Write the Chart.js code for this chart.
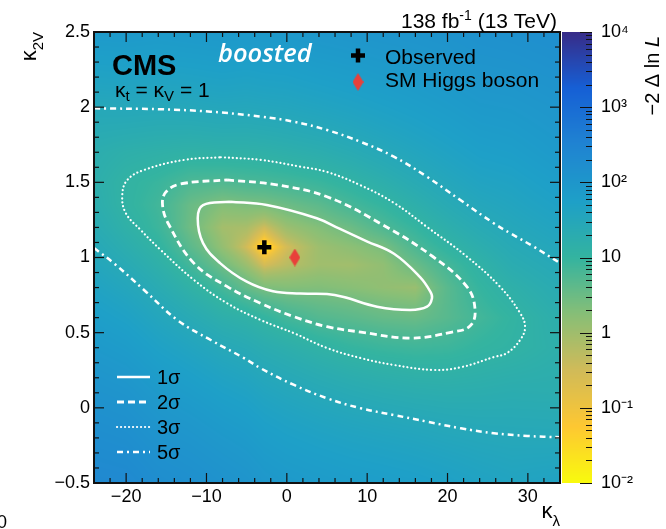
<!DOCTYPE html>
<html>
<head>
<meta charset="utf-8">
<title>kappa_lambda vs kappa_2V likelihood scan</title>
<script src="https://cdn.jsdelivr.net/npm/chart.js@4.4.1/dist/chart.umd.min.js"></script>
<style>
html,body{margin:0;padding:0;background:#ffffff;}
canvas{display:block;}
</style>
</head>
<body>
<canvas id="chart" width="666" height="529"></canvas>
<script>
// ---------------- data ----------------
const kappaLambdaLimits = [-24, 34];
const kappa2VLimits = [-0.5, 2.5];
const xTickValues = [-20, -10, 0, 10, 20, 30];
const yTickValues = [-0.5, 0, 0.5, 1, 1.5, 2, 2.5];
const zLimits = [0.01, 10000];
const zTickValues = [0.01, 0.1, 1, 10, 100, 1000, 10000];
const zTickLabels = ['10⁻²', '10⁻¹', '1', '10', '10²', '10³', '10⁴'];
const contourLabels = ['1σ', '2σ', '3σ', '5σ'];
const markerLabels = ['Observed', 'SM Higgs boson'];

const observedPoint = [[-2.8, 1.068]];
const smHiggsPoint = [[1, 1]];

// contours (kappa_lambda, kappa_2V)
const sigma1Contour = [[-7.07,1.371],[-2.50,1.349],[3.72,1.261],[6.62,1.190],[9.95,1.108],[13.34,1.025],[16.58,0.870],[17.82,0.777],[18.07,0.731],[17.45,0.673],[15.34,0.651],[11.23,0.673],[7.08,0.737],[5.00,0.757],[1.64,0.760],[-1.72,0.775],[-4.99,0.839],[-8.31,0.963],[-10.43,1.096],[-11.09,1.261],[-10.43,1.349],[-7.07,1.371]];
const sigma2Contour = [[-7.44,1.516],[-1.22,1.483],[5.00,1.404],[11.97,1.216],[18.20,1.005],[22.43,0.804],[23.43,0.651],[22.80,0.544],[20.56,0.504],[15.33,0.464],[9.23,0.504],[5.00,0.540],[0.90,0.606],[-3.25,0.695],[-7.41,0.806],[-11.55,0.961],[-14.66,1.216],[-15.47,1.349],[-15.04,1.436],[-13.21,1.489],[-7.44,1.516]];
const sigma3Contour = [[-8.23,1.667],[-3.25,1.649],[1.73,1.604],[5.00,1.569],[9.11,1.482],[13.34,1.363],[17.45,1.203],[22.43,1.005],[26.54,0.805],[29.03,0.631],[29.65,0.538],[29.03,0.451],[27.41,0.365],[25.79,0.338],[21.65,0.270],[18.32,0.252],[13.34,0.285],[9.20,0.331],[5.00,0.398],[0.90,0.496],[-3.25,0.584],[-7.41,0.695],[-11.55,0.850],[-15.70,1.050],[-18.19,1.183],[-20.05,1.296],[-20.48,1.416],[-19.85,1.516],[-17.77,1.582],[-12.80,1.649],[-8.23,1.667]];
const sigma5Upper = [[-24,1.992],[-15.70,1.986],[-9.47,1.970],[-3.25,1.937],[0.90,1.903],[5.00,1.848],[9.15,1.770],[13.31,1.671],[17.45,1.537],[21.60,1.382],[25.75,1.228],[27.82,1.161],[30.73,1.072],[34,0.963]];
const sigma5Lower = [[-24,1.063],[-21.51,0.961],[-17.77,0.784],[-13.63,0.584],[-9.47,0.451],[-5.33,0.331],[-3.25,0.263],[0.90,0.152],[5.04,0.063],[9.20,-0.003],[13.34,-0.048],[17.49,-0.092],[21.65,-0.136],[25.79,-0.169],[29.94,-0.187],[34,-0.196]];

// -2 Delta ln L read on a coarse grid: one row per kappa_lambda node, values along kappa_2V nodes
const gridKappaLambda = [-24, -20, -16, -12, -8, -5, -2.8, 0, 4, 8, 12, 16, 20, 24, 28, 34];
const gridKappa2V = [-0.5, -0.2, 0.1, 0.4, 0.6, 0.8, 0.95, 1.07, 1.2, 1.35, 1.5, 1.7, 2.0, 2.25, 2.5];
const gridDeltaNLL = [
  [237, 177, 126, 84.7, 62.7, 45, 34.5, 28, 22.5, 18.6, 17, 18.7, 29.4, 50, 82],
  [225, 163, 112, 71.4, 50.1, 33.4, 23.9, 18.2, 13.9, 11.4, 11.5, 15.6, 30.6, 52, 84],
  [176, 125, 83.8, 51.2, 34.5, 21.8, 14.9, 11.0, 8.4, 7.5, 8.9, 14.2, 29.6, 50, 80],
  [156, 108, 68.9, 38.9, 23.9, 12.9, 7.3, 4.4, 2.9, 3.3, 5.9, 12.9, 30.9, 53, 84],
  [130, 88, 54, 28.4, 15.9, 7.0, 2.8, 1.3, 0.9, 1.9, 5.4, 13.6, 33.3, 56.5, 88],
  [114, 76.6, 46.6, 24.1, 13.2, 3.6, 1.1, 0.3, 0.8, 2.19, 6.18, 13.7, 32.4, 54, 86],
  [95.5, 64, 38.8, 19.9, 10.3, 2.17, 0.28, 0, 0.32, 2.3, 6.5, 14.3, 33.9, 56.4, 88],
  [84, 55.9, 33.4, 16.7, 7.3, 1.93, 0.55, 0.28, 1.1, 3.06, 7.2, 15.8, 35.5, 57.9, 90],
  [75.9, 48.9, 27.8, 12.6, 5.2, 2.0, 1.0, 1.05, 1.92, 4.3, 8.8, 18.2, 40, 64.6, 98],
  [69.4, 43.6, 23.8, 9.9, 4.38, 1.73, 0.95, 1.55, 3.08, 6.9, 11.7, 22.6, 45.7, 71, 105],
  [65, 40, 21, 8.5, 3.55, 1.39, 1.4, 2.28, 5.7, 10.1, 16.6, 28.7, 53, 78.9, 112],
  [59.8, 36.7, 19.1, 7.8, 3.24, 1.15, 3.2, 5.9, 9.7, 15.8, 23.6, 36.5, 61, 86, 118],
  [53, 33.2, 18.1, 8.3, 4.75, 4.6, 7.0, 11.1, 16.3, 23.7, 32.4, 46, 71, 96, 127],
  [46, 30.8, 18.5, 10.3, 7.3, 9.7, 12.6, 17.5, 23.8, 32.3, 42, 57, 83.6, 110, 140],
  [41.3, 29.5, 19.6, 11.8, 10.6, 14.8, 20.2, 24.9, 30.8, 38.3, 46.5, 62, 88, 115, 148],
  [45.7, 28.9, 19, 16, 17.8, 22.6, 28.2, 33.9, 41.2, 51.3, 63, 81, 105, 132, 165]
];

// ---------------- styling / helpers ----------------
const FONT = "'Liberation Sans', Arial, Helvetica, sans-serif";
const PALETTE = [[249,251,14],[254,200,50],[209,187,89],[135,191,119],[52,180,160],[30,160,200],[32,132,210],[22,96,214],[56,44,136]];
const LINE_STYLES = [
  {dash: [], width: 2.5, cap: 'butt'},
  {dash: [7, 4], width: 2.8, cap: 'butt'},
  {dash: [0.1, 3.9], width: 2.2, cap: 'round'},
  {dash: [6, 4, 2, 4], width: 2.5, cap: 'butt'}
];
const toXY = arr => arr.map(p => ({x: p[0], y: p[1]}));

function paletteColor(v) {
  const l0 = Math.log10(zLimits[0]), l1 = Math.log10(zLimits[1]);
  const t = (Math.log10(Math.max(v, 1e-9)) - l0) / (l1 - l0);
  const p = Math.min(Math.max(t, 0), 1) * (PALETTE.length - 1);
  const i = Math.min(PALETTE.length - 2, Math.floor(p));
  const f = p - i;
  const a = PALETTE[i], b = PALETTE[i + 1];
  return [a[0] + (b[0] - a[0]) * f, a[1] + (b[1] - a[1]) * f, a[2] + (b[2] - a[2]) * f];
}
function locate(nodes, v) {
  const n = nodes.length;
  if (v <= nodes[0]) return [0, 0];
  if (v >= nodes[n - 1]) return [n - 2, 1];
  let i = 0;
  while (v > nodes[i + 1]) i++;
  return [i, (v - nodes[i]) / (nodes[i + 1] - nodes[i])];
}
function makeDiamond(w, h, color) {
  const c = document.createElement('canvas');
  c.width = w; c.height = h;
  const g = c.getContext('2d');
  g.fillStyle = color;
  g.beginPath();
  g.moveTo(w / 2, 0); g.lineTo(w, h / 2); g.lineTo(w / 2, h); g.lineTo(0, h / 2);
  g.closePath(); g.fill();
  return c;
}
const diamond = makeDiamond(11, 18, '#e8413a');

function rich(ctx, parts, x, y, measureOnly) {
  let cx = x;
  for (const p of parts) {
    ctx.font = (p.style || 'normal') + ' ' + (p.weight || 'normal') + ' ' + p.size + 'px ' + (p.family || FONT);
    if (!measureOnly) ctx.fillText(p.t, cx, y + (p.dy || 0));
    cx += ctx.measureText(p.t).width;
  }
  return cx - x;
}
function seg(ctx, x1, y1, x2, y2) { ctx.beginPath(); ctx.moveTo(x1, y1); ctx.lineTo(x2, y2); ctx.stroke(); }
function noPad(s) { s.paddingTop = 0; s.paddingBottom = 0; s.paddingLeft = 0; s.paddingRight = 0; }

// ---------------- plugins ----------------
const heatmapPlugin = {
  id: 'heatmap',
  beforeDatasetsDraw(chart) {
    const {ctx, chartArea: a, scales: {x, y}} = chart;
    const w = Math.ceil(a.right - a.left), h = Math.ceil(a.bottom - a.top);
    const off = document.createElement('canvas');
    off.width = w; off.height = h;
    const g = off.getContext('2d');
    const img = g.createImageData(w, h);
    const d = img.data;
    const root = gridDeltaNLL.map(r => r.map(v => Math.sqrt(v)));
    const cols = [];
    for (let i = 0; i < w; i++) cols.push(locate(gridKappaLambda, x.getValueForPixel(a.left + i + 0.5)));
    for (let j = 0; j < h; j++) {
      const [jy, fy] = locate(gridKappa2V, y.getValueForPixel(a.top + j + 0.5));
      for (let i = 0; i < w; i++) {
        const [ix, fx] = cols[i];
        const s = (1 - fx) * ((1 - fy) * root[ix][jy] + fy * root[ix][jy + 1]) +
                  fx * ((1 - fy) * root[ix + 1][jy] + fy * root[ix + 1][jy + 1]);
        const c = paletteColor(s * s);
        const k = (j * w + i) * 4;
        d[k] = c[0]; d[k + 1] = c[1]; d[k + 2] = c[2]; d[k + 3] = 255;
      }
    }
    g.putImageData(img, 0, 0);
    ctx.save();
    ctx.drawImage(off, a.left, a.top);
    ctx.restore();
  }
};

const framePlugin = {
  id: 'frame',
  afterDatasetsDraw(chart) {
    const {ctx, chartArea: a, scales: {x, y}} = chart;
    ctx.save();
    ctx.strokeStyle = '#111';
    ctx.lineWidth = 1.2;
    for (let v = kappaLambdaLimits[0] + 2; v < kappaLambdaLimits[1]; v += 2) {
      const px = x.getPixelForValue(v);
      const L = (v % 10 === 0) ? 10 : 5;
      seg(ctx, px, a.bottom, px, a.bottom - L);
      seg(ctx, px, a.top, px, a.top + L);
    }
    for (let k = -4; k <= 24; k++) {
      const py = y.getPixelForValue(k / 10);
      const L = (k % 5 === 0) ? 10 : 5;
      seg(ctx, a.left, py, a.left + L, py);
      seg(ctx, a.right, py, a.right - L, py);
    }
    ctx.lineWidth = 2;
    ctx.strokeStyle = '#111';
    ctx.strokeRect(a.left, a.top, a.right - a.left, a.bottom - a.top);
    ctx.restore();
  }
};

const annotationPlugin = {
  id: 'annotations',
  afterDraw(chart) {
    const {ctx, chartArea: a, scales: {z}} = chart;
    ctx.save();
    // colour bar
    const x0 = z.left + 2, cw = 30;
    for (let py = Math.floor(z.top); py < Math.ceil(z.bottom); py++) {
      const c = paletteColor(z.getValueForPixel(py + 0.5));
      ctx.fillStyle = 'rgb(' + (c[0] | 0) + ',' + (c[1] | 0) + ',' + (c[2] | 0) + ')';
      ctx.fillRect(x0, py, cw, 1);
    }
    ctx.strokeStyle = '#111';
    ctx.lineWidth = 1;
    for (let e = -2; e <= 4; e++) {
      for (let m = 1; m <= 9; m++) {
        const v = m * Math.pow(10, e);
        if (v > zLimits[1] * 1.0001) break;
        const py = Math.round(z.getPixelForValue(v)) + 0.5;
        const L = m === 1 ? 12 : 6;
        seg(ctx, x0 + cw - L, py, x0 + cw, py);
      }
    }

    ctx.fillStyle = '#000';
    ctx.textBaseline = 'alphabetic';
    ctx.textAlign = 'left';
    // CMS label
    rich(ctx, [{t: 'CMS', size: 29, weight: 'bold'}], 112, 75);
    rich(ctx, [
      {t: 'κ', size: 21}, {t: 't', size: 15, dy: 3.5}, {t: ' = κ', size: 21},
      {t: 'V', size: 15, dy: 3.5}, {t: ' = 1', size: 21}
    ], 115, 97);
    // luminosity
    const lumi = [{t: '138 fb', size: 21}, {t: '-1', size: 14, dy: -8}, {t: ' (13 TeV)', size: 21}];
    const lw = rich(ctx, lumi, 0, 0, true);
    rich(ctx, lumi, a.right - 3 - lw, 28);
    // boosted
    ctx.fillStyle = '#ffffff';
    rich(ctx, [{t: 'boosted', size: 25.5, style: 'italic', weight: '600', family: "'Open Sans', sans-serif"}], 218, 62);

    // marker legend
    ctx.fillStyle = '#000';
    ctx.strokeStyle = '#000';
    ctx.lineWidth = 4.5;
    seg(ctx, 351, 55.5, 365, 55.5);
    seg(ctx, 358, 48.5, 358, 62.5);
    ctx.drawImage(diamond, 358 - diamond.width / 2, 82 - diamond.height / 2);
    rich(ctx, [{t: markerLabels[0], size: 21}], 385, 64);
    rich(ctx, [{t: markerLabels[1], size: 21}], 385, 87);

    // contour legend
    const ly = [377, 402, 427, 452];
    for (let i = 0; i < 4; i++) {
      const st = LINE_STYLES[i];
      ctx.strokeStyle = '#ffffff';
      ctx.lineWidth = st.width;
      ctx.lineCap = st.cap;
      ctx.setLineDash(st.dash);
      seg(ctx, 117, ly[i], 150, ly[i]);
      ctx.setLineDash([]);
      ctx.lineCap = 'butt';
      ctx.fillStyle = '#000';
      rich(ctx, [{t: contourLabels[i], size: 20}], 157, ly[i] + 6.5);
    }

    // x axis title
    ctx.fillStyle = '#000';
    const xt = [{t: 'κ', size: 22}, {t: 'λ', size: 15, dy: 8}];
    const xw = rich(ctx, xt, 0, 0, true);
    rich(ctx, xt, a.right - xw, 518);
    // y axis title (rotated)
    const yt = [{t: 'κ', size: 22}, {t: '2V', size: 15, dy: 7}];
    const yw = rich(ctx, yt, 0, 0, true);
    ctx.save();
    ctx.translate(36, a.top);
    ctx.rotate(-Math.PI / 2);
    rich(ctx, yt, -yw, 0);
    ctx.restore();
    // z axis title (rotated)
    const zt = [{t: '−2 Δ ln ', size: 20}, {t: 'L', size: 20, style: 'italic'}];
    const zw = rich(ctx, zt, 0, 0, true);
    ctx.save();
    ctx.translate(659, a.top + 4);
    ctx.rotate(-Math.PI / 2);
    rich(ctx, zt, -zw, 0);
    ctx.restore();
    // cropped label fragment at bottom-left of the source picture
    rich(ctx, [{t: '0', size: 18}], -3, 528);
    ctx.restore();
  }
};

// ---------------- chart ----------------
const lineDataset = (label, pts, st) => ({
  label, data: toXY(pts), showLine: true, pointRadius: 0, pointHoverRadius: 0, pointHitRadius: 0,
  borderColor: '#ffffff', borderWidth: st.width, borderDash: st.dash, borderCapStyle: st.cap,
  tension: 0.4, fill: false
});

const chart = new Chart(document.getElementById('chart'), {
  type: 'scatter',
  data: {
    datasets: [
      {label: markerLabels[0], data: toXY(observedPoint), pointStyle: 'cross', pointRadius: 7, pointHoverRadius: 7,
       borderColor: '#000', backgroundColor: '#000', borderWidth: 4.5, pointBorderWidth: 4.5},
      {label: markerLabels[1], data: toXY(smHiggsPoint), pointStyle: diamond, pointRadius: 9, pointHoverRadius: 9,
       borderColor: '#e8413a', backgroundColor: '#e8413a'},
      lineDataset(contourLabels[0], sigma1Contour, LINE_STYLES[0]),
      lineDataset(contourLabels[1], sigma2Contour, LINE_STYLES[1]),
      lineDataset(contourLabels[2], sigma3Contour, LINE_STYLES[2]),
      lineDataset(contourLabels[3], sigma5Upper, LINE_STYLES[3]),
      lineDataset(contourLabels[3] + ' ', sigma5Lower, LINE_STYLES[3])
    ]
  },
  options: {
    responsive: false,
    animation: false,
    devicePixelRatio: 1,
    events: [],
    layout: {padding: {top: 32, left: 0, right: 0, bottom: 0}},
    plugins: {legend: {display: false}, tooltip: {enabled: false}, title: {display: false}},
    scales: {
      x: {
        type: 'linear', position: 'bottom', min: kappaLambdaLimits[0], max: kappaLambdaLimits[1],
        grid: {display: false, drawTicks: false}, border: {display: false},
        ticks: {autoSkip: false, maxRotation: 0, padding: 3, color: '#000', font: {family: FONT, size: 18},
                callback: v => String(v).replace('-', '−')},
        afterBuildTicks: s => { s.ticks = xTickValues.map(v => ({value: v})); },
        afterFit: s => { s.height = 46; noPad(s); }
      },
      y: {
        type: 'linear', position: 'left', min: kappa2VLimits[0], max: kappa2VLimits[1],
        grid: {display: false, drawTicks: false}, border: {display: false},
        ticks: {autoSkip: false, padding: 4, color: '#000', font: {family: FONT, size: 18},
                callback: v => String(v).replace('-', '−')},
        afterBuildTicks: s => { s.ticks = yTickValues.map(v => ({value: v})); },
        afterFit: s => { s.width = 94; noPad(s); }
      },
      z: {
        type: 'logarithmic', axis: 'y', position: 'right', min: zLimits[0], max: zLimits[1],
        grid: {display: false, drawTicks: false}, border: {display: false},
        ticks: {autoSkip: false, padding: 41, color: '#000', font: {family: FONT, size: 18},
                callback: (v, i) => zTickLabels[i]},
        afterBuildTicks: s => { s.ticks = zTickValues.map(v => ({value: v})); },
        afterFit: s => { s.width = 106; noPad(s); }
      }
    }
  },
  plugins: [heatmapPlugin, framePlugin, annotationPlugin]
});
</script>
</body>
</html>
